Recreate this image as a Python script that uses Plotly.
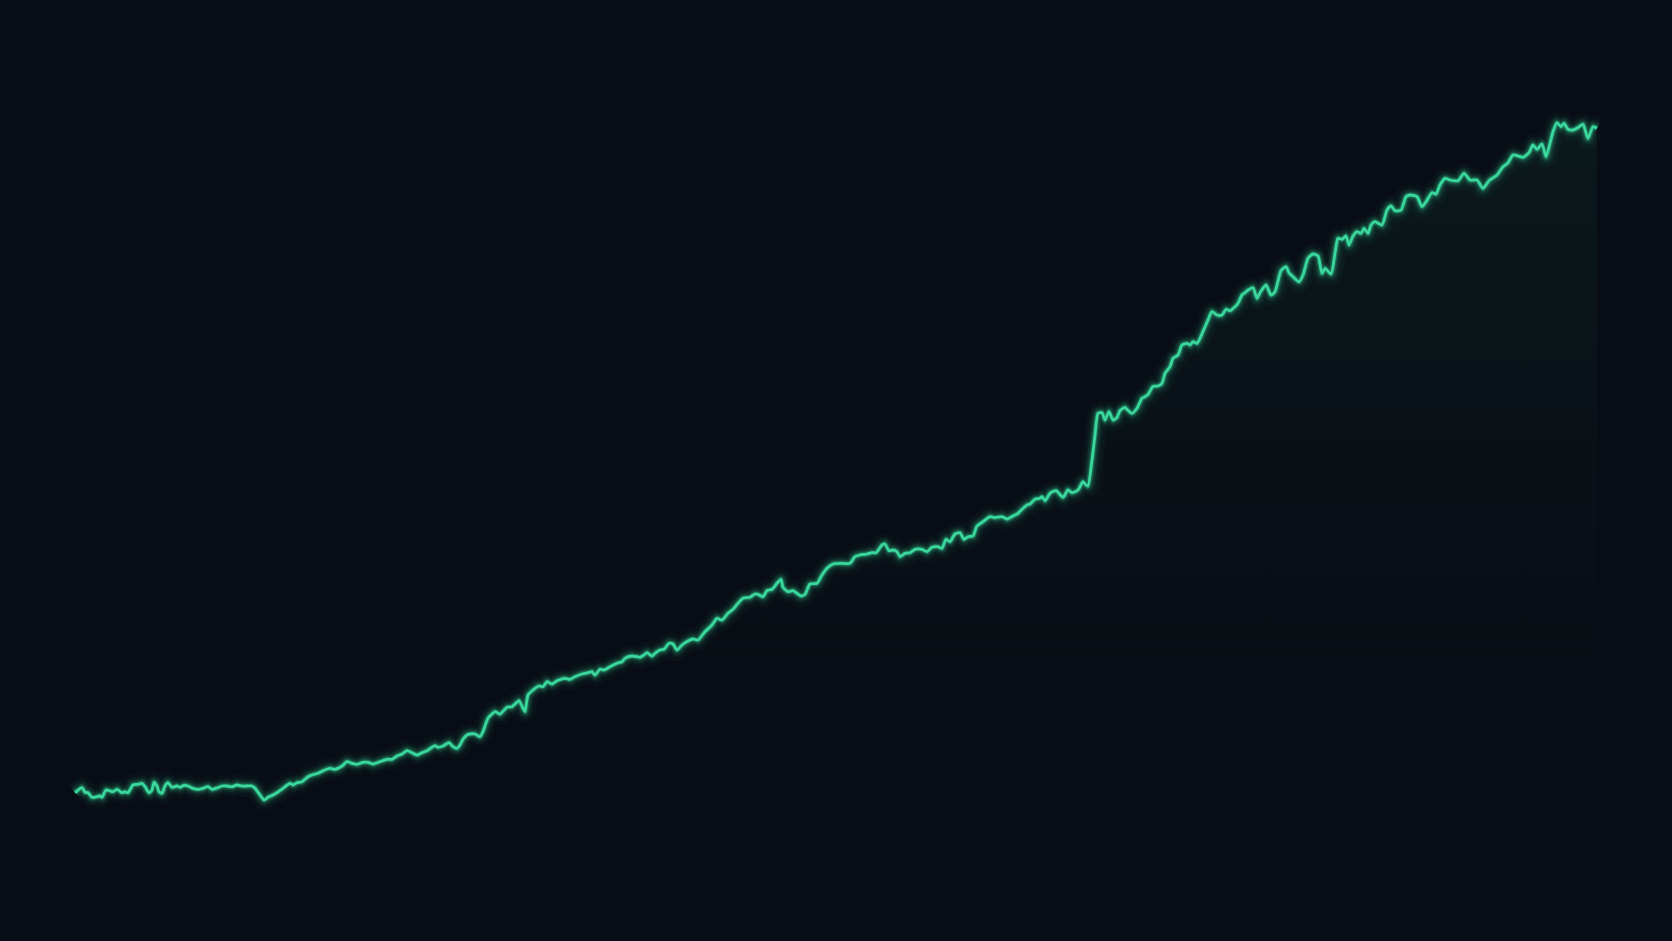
import plotly.graph_objects as go

# Day index along the series
days = [
    0, 7, 10, 13, 17, 22, 25, 27, 31, 35, 38, 42, 47, 50, 53, 58, 63, 67, 70, 74,
    77, 79, 82, 84, 87, 90, 93, 97, 102, 105, 109, 113, 118, 123, 128, 133, 137, 142, 147, 152,
    157, 162, 167, 172, 177, 180, 185, 189, 193, 198, 203, 208, 215, 218, 222, 227, 233, 238, 243, 248,
    255, 260, 267, 272, 277, 282, 288, 293, 298, 305, 312, 317, 322, 327, 332, 337, 342, 347, 352, 357,
    360, 363, 368, 374, 378, 382, 385, 388, 392, 395, 400, 405, 408, 413, 420, 425, 432, 437, 440, 444,
    448, 450, 453, 458, 464, 468, 472, 477, 482, 490, 495, 500, 507, 513, 517, 520, 525, 529, 535, 542,
    547, 550, 557, 562, 565, 569, 572, 577, 580, 585, 589, 594, 598, 602, 607, 613, 618, 623, 630, 637,
    642, 647, 653, 658, 663, 668, 675, 680, 683, 688, 692, 697, 702, 706, 708, 713, 718, 722, 726, 730,
    735, 742, 747, 752, 758, 765, 775, 780, 785, 792, 797, 801, 807, 810, 814, 818, 822, 825, 830, 835,
    840, 847, 852, 857, 863, 867, 871, 875, 880, 885, 889, 893, 898, 902, 908, 915, 920, 927, 932, 938,
    943, 947, 952, 955, 960, 965, 967, 970, 975, 981, 988, 993, 997, 1003, 1008, 1011, 1013, 1017, 1020, 1023,
    1027, 1030, 1034, 1038, 1042, 1045, 1050, 1052, 1057, 1062, 1067, 1070, 1073, 1078, 1083, 1087, 1090, 1095, 1098, 1103,
    1107, 1112, 1115, 1118, 1122, 1125, 1130, 1133, 1137, 1142, 1147, 1151, 1155, 1160, 1163, 1167, 1170, 1173, 1178, 1182,
    1185, 1191, 1196, 1200, 1206, 1211, 1214, 1218, 1224, 1228, 1233, 1238, 1243, 1247, 1250, 1256, 1260, 1263, 1267, 1271,
    1274, 1278, 1282, 1286, 1289, 1293, 1296, 1300, 1307, 1312, 1316, 1320, 1326, 1331, 1335, 1342, 1347, 1351, 1357, 1361,
    1365, 1370, 1375, 1383, 1389, 1395, 1402, 1408, 1414, 1422, 1428, 1433, 1438, 1443, 1448, 1454, 1458, 1462, 1467, 1471,
    1475, 1478, 1482, 1486, 1489, 1493, 1498, 1502, 1508, 1513, 1518, 1522,
]

values = [
    14.83, 15.33, 14.87, 14.83, 14.37, 14.43, 14.50, 14.37, 15.10, 15.00, 14.93, 15.17, 14.83, 14.93, 14.83, 15.60, 15.67, 15.77, 15.43, 14.83,
    15.10, 15.87, 15.50, 14.93, 14.77, 15.50, 15.83, 15.37, 15.50, 15.37, 15.57, 15.50, 15.27, 15.17, 15.27, 15.43, 15.17, 15.30, 15.50, 15.50,
    15.43, 15.60, 15.50, 15.50, 15.50, 15.27, 14.60, 14.10, 14.37, 14.60, 14.90, 15.27, 15.77, 15.60, 15.83, 15.93, 16.43, 16.63, 16.77, 17.03,
    17.27, 17.17, 17.50, 17.93, 17.77, 17.67, 17.87, 17.87, 17.70, 17.93, 18.17, 18.17, 18.50, 18.70, 19.03, 18.83, 18.60, 18.83, 19.03, 19.37,
    19.53, 19.37, 19.50, 19.83, 19.43, 19.27, 19.60, 20.17, 20.60, 20.70, 20.70, 20.43, 20.93, 22.27, 22.93, 22.70, 23.37, 23.43, 23.70, 24.03,
    23.27, 22.93, 24.60, 25.10, 25.50, 25.43, 25.93, 25.70, 26.03, 26.27, 26.17, 26.43, 26.70, 26.83, 26.93, 26.60, 27.17, 27.10, 27.43, 27.77,
    27.93, 28.27, 28.50, 28.43, 28.37, 28.60, 28.83, 28.50, 28.77, 29.10, 29.17, 29.77, 29.70, 29.10, 29.60, 30.00, 30.20, 30.10, 30.93, 31.60,
    32.27, 32.10, 32.77, 33.17, 33.77, 34.27, 34.37, 34.70, 34.67, 34.43, 35.03, 35.17, 35.77, 36.17, 35.37, 34.93, 35.03, 34.77, 34.50, 34.67,
    35.70, 35.77, 36.60, 37.27, 37.70, 37.77, 37.77, 38.43, 38.60, 38.70, 38.83, 38.83, 39.60, 39.70, 39.03, 39.10, 38.93, 38.43, 38.77, 38.83,
    39.17, 39.17, 38.93, 39.37, 39.43, 39.27, 40.17, 39.93, 40.70, 40.83, 40.17, 40.43, 40.50, 41.50, 41.93, 42.43, 42.33, 42.43, 42.20, 42.50,
    42.77, 43.17, 43.60, 43.70, 44.17, 44.27, 44.43, 44.03, 44.77, 45.03, 44.37, 45.10, 44.83, 45.10, 45.93, 45.60, 45.50, 48.10, 50.60, 52.77,
    52.83, 52.10, 52.93, 52.10, 52.37, 53.03, 53.37, 53.17, 52.77, 53.27, 54.27, 54.43, 54.65, 55.45, 55.50, 55.77, 56.77, 57.43, 58.27, 58.60,
    59.60, 59.77, 59.60, 59.93, 59.77, 60.27, 61.43, 62.10, 62.93, 62.60, 62.60, 63.17, 63.03, 63.43, 63.77, 64.60, 64.83, 65.10, 65.33, 64.27,
    64.83, 65.60, 64.60, 64.93, 67.03, 67.43, 66.83, 66.43, 65.93, 66.60, 68.27, 68.70, 68.50, 66.77, 67.27, 66.70, 68.77, 70.27, 70.17, 70.50,
    69.60, 70.50, 70.93, 70.77, 71.27, 70.77, 71.60, 71.93, 71.60, 73.10, 73.50, 73.03, 73.10, 74.43, 74.60, 74.43, 73.43, 73.93, 74.83, 74.70,
    75.60, 76.27, 76.10, 76.03, 76.77, 76.10, 76.10, 75.27, 76.03, 76.60, 77.43, 77.83, 78.60, 78.50, 78.37, 78.83, 79.60, 79.17, 79.70, 78.43,
    79.77, 80.93, 81.83, 81.43, 81.77, 81.17, 81.10, 81.27, 81.67, 80.27, 81.43, 81.27,
]

BG = "#080c14"
LINE = "#3ad89c"

fig = go.Figure()

# Gradient area under the line
fig.add_trace(go.Scatter(
    x=days, y=values, mode="lines",
    line=dict(width=0, color="rgba(0,0,0,0)", shape="spline", smoothing=0.6),
    fill="tozeroy",
    fillgradient=dict(
        type="vertical",
        colorscale=[[0, "rgba(52,211,153,0)"], [0.3, "rgba(52,211,153,0)"],
                    [1, "rgba(52,211,153,0.06)"]],
    ),
    hoverinfo="skip",
))

# Glow layers
for w, a in [(22, 0.03), (15, 0.05), (11, 0.09), (7.5, 0.15), (5, 0.28)]:
    fig.add_trace(go.Scatter(
        x=days, y=values, mode="lines",
        line=dict(width=w, color=f"rgba(52,211,153,{a})", shape="spline", smoothing=0.6),
        hoverinfo="skip",
    ))

# Main line
fig.add_trace(go.Scatter(
    x=days, y=values, mode="lines",
    line=dict(width=2.8, color=LINE, shape="spline", smoothing=0.6),
    hoverinfo="skip",
))

fig.update_layout(
    width=1672, height=941,
    margin=dict(l=0, r=0, t=0, b=0),
    paper_bgcolor=BG, plot_bgcolor=BG,
    showlegend=False,
    hovermode=False,
    xaxis=dict(range=[-75, 1597], visible=False, showgrid=False, zeroline=False),
    yaxis=dict(range=[0, 94.1], visible=False, showgrid=False, zeroline=False),
)

fig.write_html(
    "out.html",
    config={"displayModeBar": False},
    post_script="document.body.style.margin='0';document.body.style.background='#080c14';document.body.style.overflow='hidden';",
)
